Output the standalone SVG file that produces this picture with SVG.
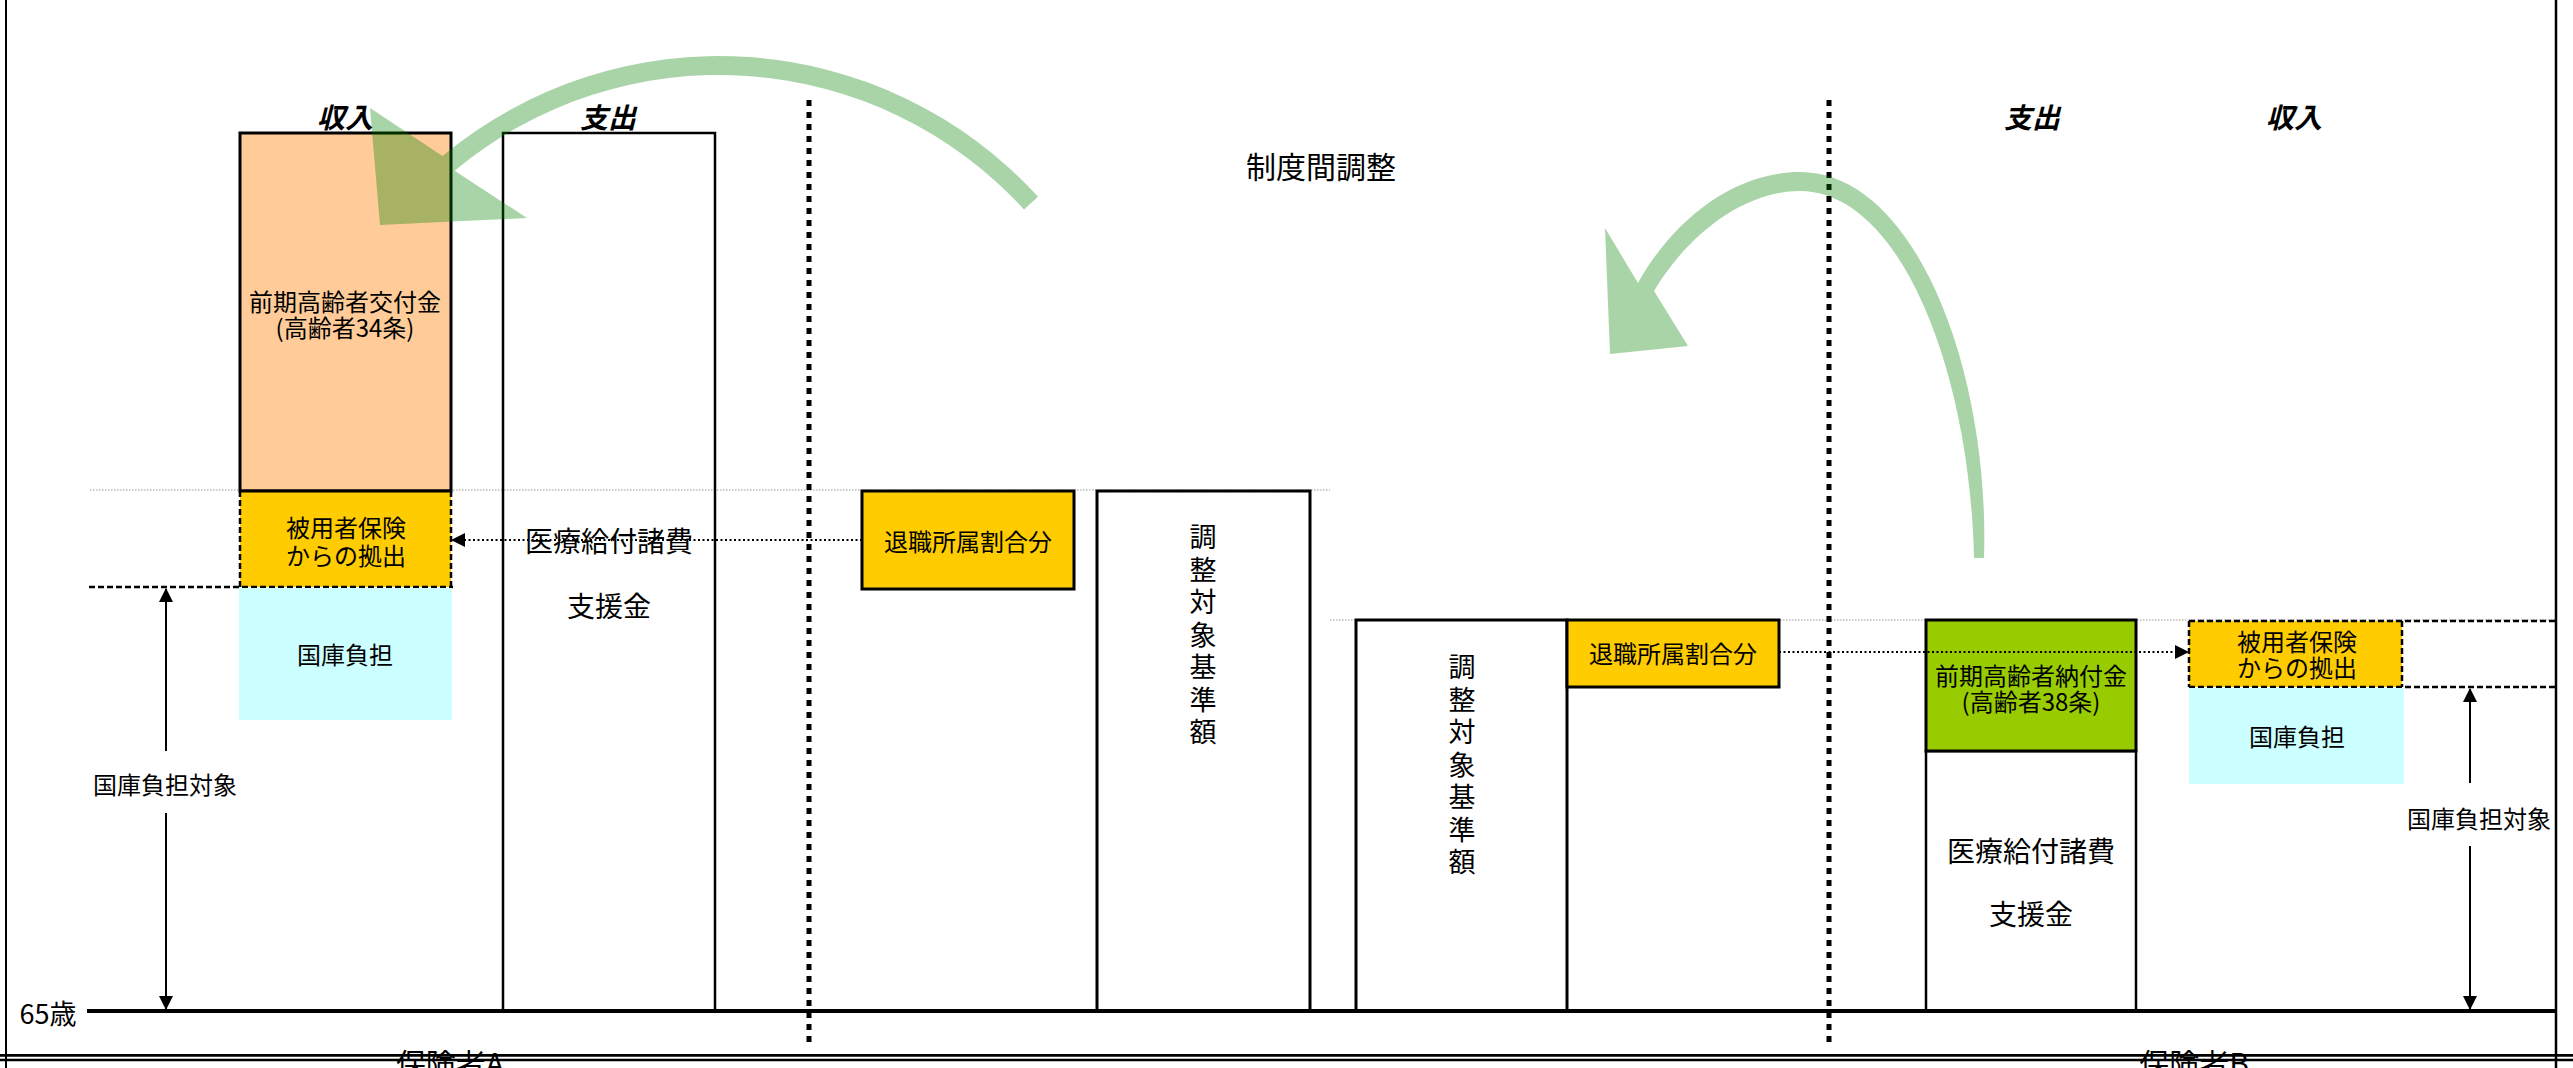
<svg xmlns="http://www.w3.org/2000/svg" width="2573" height="1068" viewBox="0 0 2573 1068">
<style>
.t{font-family:"Noto Sans CJK JP","Noto Sans",sans-serif;fill:#000;text-anchor:middle;dominant-baseline:central}
.v{font-family:"Noto Sans CJK JP","Noto Sans",sans-serif;fill:#000;font-size:27px;writing-mode:vertical-rl;text-anchor:start;letter-spacing:5.5px}
.s24{font-size:24px}.s28{font-size:28px}.s30{font-size:30px}
.hdr{font-size:28px;font-weight:bold;font-style:italic}
.box{stroke:#000;stroke-width:3}
.ln{stroke:#000;stroke-width:2.5;fill:none}
.dash{stroke:#000;stroke-width:2.5;stroke-dasharray:6 3;fill:none}
.gdot{stroke:#999;stroke-width:1.2;stroke-dasharray:1.5 1.5;fill:none}
.sep{stroke:#000;stroke-width:5;stroke-dasharray:6 6;fill:none}
.dot{stroke:#000;stroke-width:2;stroke-dasharray:2 2.5;fill:none}
.arr{fill:#008000;fill-opacity:0.34}
</style>
<defs>
<marker id="ah" markerWidth="14" markerHeight="14" refX="13" refY="7" orient="auto" markerUnits="userSpaceOnUse">
<path d="M0,0 L14,7 L0,14 Z" fill="#000"/>
</marker>
</defs>
<rect width="2573" height="1068" fill="#fff"/>

<!-- reference guides -->
<g id="guides">
<line class="gdot" x1="90" y1="490" x2="1330" y2="490"/>
<line class="gdot" x1="1330" y1="620" x2="2556" y2="620"/>
</g>

<!-- Insurer A -->
<g id="label-income-a"><text class="t hdr" x="345" y="116">収入</text></g>
<g id="label-expense-a"><text class="t hdr" x="608" y="116">支出</text></g>

<g id="node-koufukin">
<rect class="box" x="240" y="133" width="211" height="358" fill="#FFCC99"/>
<text class="t s24" x="345" y="300">前期高齢者交付金<tspan x="345" dy="26">(高齢者34条)</tspan></text>
</g>

<g id="node-kyoshutsu-a">
<rect x="240" y="491" width="211" height="96" fill="#FFCC00"/>
<line class="dash" x1="240" y1="491" x2="240" y2="587"/>
<line class="dash" x1="451" y1="491" x2="451" y2="587"/>
<line class="dash" x1="89" y1="587" x2="453" y2="587"/>
<line class="ln" x1="240" y1="491" x2="451" y2="491" style="stroke-width:3"/>
<text class="t s24" x="346" y="526">被用者保険<tspan x="346" dy="28">からの拠出</tspan></text>
</g>

<g id="node-kokko-a">
<rect x="239" y="588" width="213" height="132" fill="#CCFFFF"/>
<text class="t s24" x="345" y="653">国庫負担</text>
</g>

<g id="node-iryou-a">
<rect class="ln" x="503" y="133" width="212" height="878" fill="#fff"/>
<text class="t s28" x="609" y="540">医療給付諸費<tspan x="609" dy="65">支援金</tspan></text>
</g>

<g id="node-kokko-taisho-a">
<text class="t s24" x="165" y="783">国庫負担対象</text>
</g>

<!-- middle -->
<g id="node-seido"><text class="t s30" x="1321" y="165">制度間調整</text></g>

<g id="node-taishoku-a">
<rect class="box" x="862" y="491" width="212" height="98" fill="#FFCC00"/>
<text class="t s24" x="968" y="540">退職所属割合分</text>
</g>

<g id="node-kijun-a">
<rect class="box" x="1097" y="491" width="213" height="520" fill="#fff"/>
<text class="v" x="1203" y="523.5">調整対象基準額</text>
</g>

<g id="node-kijun-b">
<rect class="box" x="1356" y="620" width="211" height="391" fill="#fff"/>
<text class="v" x="1462" y="653.5">調整対象基準額</text>
</g>

<g id="node-taishoku-b">
<rect class="box" x="1567" y="620" width="212" height="67" fill="#FFCC00"/>
<text class="t s24" x="1673" y="652">退職所属割合分</text>
</g>

<!-- Insurer B -->
<g id="label-expense-b"><text class="t hdr" x="2032" y="116">支出</text></g>
<g id="label-income-b"><text class="t hdr" x="2294" y="116">収入</text></g>

<g id="node-noufukin">
<rect class="ln" x="1926" y="751" width="210" height="260" fill="#fff"/>
<rect class="box" x="1926" y="620" width="210" height="131" fill="#99CC00"/>
<text class="t s24" x="2031" y="674">前期高齢者納付金<tspan x="2031" dy="26">(高齢者38条)</tspan></text>
</g>

<g id="node-iryou-b">
<text class="t s28" x="2031" y="850">医療給付諸費<tspan x="2031" dy="63">支援金</tspan></text>
</g>

<g id="node-kyoshutsu-b">
<rect x="2189" y="621" width="213" height="66" fill="#FFCC00"/>
<line class="dash" x1="2189" y1="621" x2="2189" y2="687"/>
<line class="dash" x1="2402" y1="621" x2="2402" y2="687"/>
<line class="dash" x1="2189" y1="621" x2="2556" y2="621"/>
<line class="dash" x1="2189" y1="687" x2="2556" y2="687"/>
<text class="t s24" x="2297" y="640">被用者保険<tspan x="2297" dy="26">からの拠出</tspan></text>
</g>

<g id="node-kokko-b">
<rect x="2189" y="688" width="215" height="96" fill="#CCFFFF"/>
<text class="t s24" x="2297" y="735">国庫負担</text>
</g>

<g id="node-kokko-taisho-b">
<text class="t s24" x="2479" y="817">国庫負担対象</text>
</g>

<!-- frame and axis -->
<g id="frame">
<line class="ln" x1="6" y1="0" x2="6" y2="1068" style="stroke-width:2"/>
<line class="ln" x1="2556" y1="0" x2="2556" y2="1068"/>
<line class="ln" x1="87" y1="1011" x2="2556" y2="1011" style="stroke-width:4"/>
<text class="t" x="48" y="1012" style="font-size:27px">65歳</text>
<text class="t s30" x="450" y="1062">保険者A</text>
<text class="t s30" x="2194" y="1062">保険者B</text>
<line class="ln" x1="0" y1="1055.3" x2="2573" y2="1055.3" style="stroke-width:2.7"/>
<line class="ln" x1="0" y1="1060" x2="2573" y2="1060" style="stroke-width:2.7"/>
<line class="sep" x1="809" y1="100" x2="809" y2="1042"/>
<line class="sep" x1="1829" y1="100" x2="1829" y2="1042"/>
</g>

<!-- connectors -->
<g id="connectors">
<line class="dot" x1="862" y1="540" x2="452" y2="540" marker-end="url(#ah)"/>
<line class="dot" x1="1779" y1="652" x2="2188" y2="652" marker-end="url(#ah)"/>
<line class="ln" x1="166" y1="751" x2="166" y2="589" style="stroke-width:2" marker-end="url(#ah)"/>
<line class="ln" x1="166" y1="813" x2="166" y2="1009" style="stroke-width:2" marker-end="url(#ah)"/>
<line class="ln" x1="2470" y1="783" x2="2470" y2="689" style="stroke-width:2" marker-end="url(#ah)"/>
<line class="ln" x1="2470" y1="846" x2="2470" y2="1009" style="stroke-width:2" marker-end="url(#ah)"/>
<path class="arr" d="M1024,209.5 L1038,196.7 A432,432 0 0 0 442.5,156.1 L370,108 L380,225 L527,218 L454.6,170.7 A413,413 0 0 1 1024,209.5 Z"/>
<path class="arr" d="M1984,558 C1990,370 1915,172 1800,172 C1730,172 1670,225 1638,283 L1605,228 L1610,354 L1688,346 L1654,291 C1684,240 1740,191 1800,191 C1900,191 1970,370 1974,558 Z"/>
</g>
</svg>
